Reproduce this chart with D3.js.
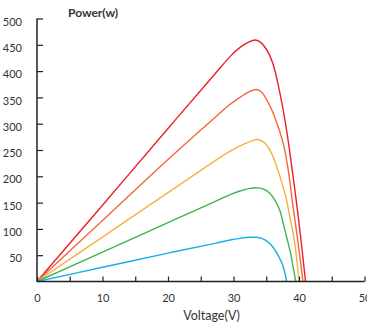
<!DOCTYPE html>
<html>
<head>
<meta charset="utf-8">
<script src="https://cdn.jsdelivr.net/npm/d3@7"></script>
<style>
  html, body { margin: 0; padding: 0; background: #fff; }
  svg { display: block; }
  text { font-family: Lato, "Noto Sans", sans-serif; fill: #333; }
</style>
</head>
<body>
<svg id="chart" width="367" height="324"></svg>
<script>
// ---- data ----
const xTicks = [0, 5, 10, 15, 20, 25, 30, 35, 40, 45, 50];
const xTickLabels = ["0", "", "10", "", "20", "", "30", "", "40", "", "50"];
const yTicks = [50, 100, 150, 200, 250, 300, 350, 400, 450, 500];
const yTickLabels = ["50", "100", "150", "200", "250", "300", "350", "400", "450", "500"];
const yTitle = "Power(w)";
const xTitle = "Voltage(V)";

const redV = [0, 10, 20, 27, 29.5, 31, 32.3, 33.3, 34.0, 35.0, 36.0, 37.2, 38.1, 38.9, 39.7, 40.4, 41.0];
const redP = [0, 145, 291, 392, 428, 445, 455, 459, 456, 442, 415, 351, 288, 218, 142, 68, 0];

const orangeRedV = [0, 10, 20, 27, 29.5, 31, 32.4, 33.5, 34.3, 35.6, 36.6, 37.6, 38.4, 39.1, 39.9, 40.6];
const orangeRedP = [0, 116, 232, 310, 337, 350, 361, 365, 360, 333, 302, 262, 208, 142, 70, 0];

const orangeV = [0, 10, 20, 27, 29.5, 31, 32.5, 33.7, 34.7, 35.8, 36.6, 37.4, 38.1, 38.6, 39.2, 39.6, 40.0];
const orangeP = [0, 84.5, 169, 228, 248, 258, 266, 270, 264, 244, 218, 187, 155, 123, 85, 47, 0];

const greenV = [0, 10, 20, 27, 29.5, 31, 32.5, 33.7, 34.7, 35.6, 36.4, 37.1, 37.6, 38.1, 38.6, 39.1, 39.5];
const greenP = [0, 56, 112, 151, 165, 172, 177, 178, 175, 167, 153, 134, 110, 85, 60, 28, 0];

const blueV = [0, 10, 20, 27, 29.5, 31, 32.5, 33.5, 34.3, 34.8, 35.8, 36.8, 37.6, 38.1];
const blueP = [0, 27, 54, 72, 79, 82, 84, 84, 82, 79, 69, 50, 28, 0];

const seriesNames = ["red", "orangeRed", "orange", "green", "blue"];
const seriesColors = ["#ec1f27", "#f4673a", "#fbae40", "#3eb549", "#19aeea"];
const seriesV = [redV, orangeRedV, orangeV, greenV, blueV];
const seriesP = [redP, orangeRedP, orangeP, greenP, blueP];

// ---- layout ----
const svg = d3.select("#chart");
const x = d3.scaleLinear().domain([0, 50]).range([37, 364.5]);
const y = d3.scaleLinear().domain([0, 500]).range([281.5, 18.5]);

// curves
const line = d3.line()
  .x(d => x(d[0]))
  .y(d => y(d[1]))
  .curve(d3.curveCatmullRom.alpha(0.5));

seriesNames.forEach((name, i) => {
  const pts = seriesV[i].map((v, j) => [v, seriesP[i][j]]);
  svg.append("path")
    .datum(pts)
    .attr("class", "series " + name)
    .attr("fill", "none")
    .attr("stroke", seriesColors[i])
    .attr("stroke-width", 1.4)
    .attr("d", line);
});

// x axis
const xAxis = d3.axisBottom(x)
  .tickValues(xTicks)
  .tickSizeInner(-5)
  .tickSizeOuter(0)
  .tickPadding(13)
  .tickFormat((d, i) => xTickLabels[i]);
const gx = svg.append("g").attr("transform", `translate(0,${y(0)})`).call(xAxis);
gx.select(".domain").attr("stroke", "#231f20").attr("stroke-width", 1.5)
  .attr("d", `M${x(0)},0H${x(50)}`);
gx.selectAll(".tick line").attr("stroke", "#231f20").attr("stroke-width", 1.2);
gx.selectAll(".tick text").attr("font-size", 11).attr("fill", "#333")
  .attr("font-family", "Lato, 'Noto Sans', sans-serif");

// y axis
const yAxis = d3.axisLeft(y)
  .tickValues(yTicks)
  .tickSizeInner(-6)
  .tickSizeOuter(0)
  .tickPadding(15)
  .tickFormat((d, i) => yTickLabels[i]);
const gy = svg.append("g").attr("transform", `translate(${x(0)},0)`).call(yAxis);
gy.select(".domain").attr("stroke", "#231f20").attr("stroke-width", 1.5)
  .attr("d", `M0,${y(500)}V${y(0)}`);
gy.selectAll(".tick line").attr("stroke", "#231f20").attr("stroke-width", 1.2);
gy.selectAll(".tick text").attr("font-size", 11).attr("fill", "#333")
  .attr("font-family", "Lato, 'Noto Sans', sans-serif")
  .attr("dy", "0.6em");

// titles
svg.append("text")
  .attr("x", 68).attr("y", 17)
  .attr("font-size", 12).attr("font-weight", "bold")
  .attr("fill", "#222")
  .text(yTitle);

svg.append("text")
  .attr("x", 211.5).attr("y", 320)
  .attr("text-anchor", "middle")
  .attr("font-size", 12.5)
  .attr("fill", "#333")
  .text(xTitle);
</script>
</body>
</html>
